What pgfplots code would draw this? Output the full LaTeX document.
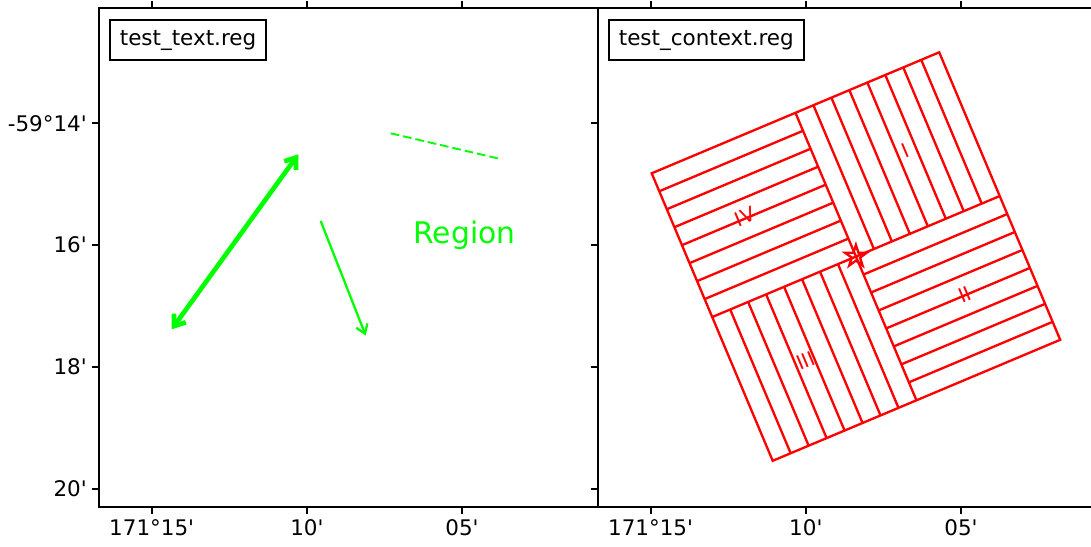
\documentclass[border=0pt]{standalone}
\usepackage{fontspec}
\newfontfamily\dejavu{DejaVu Sans}
\usepackage{pgfplots}
\pgfplotsset{compat=1.18}
\usetikzlibrary{arrows.meta}
\definecolor{lime}{RGB}{0,255,0}
\definecolor{rred}{RGB}{255,0,0}

\pgfdeclareplotmark{ostar}{%
  \pgfpathmoveto{\pgfpointpolar{90}{\pgfplotmarksize}}%
  \pgfpathlineto{\pgfpointpolar{126}{0.382\pgfplotmarksize}}%
  \pgfpathlineto{\pgfpointpolar{162}{\pgfplotmarksize}}%
  \pgfpathlineto{\pgfpointpolar{198}{0.382\pgfplotmarksize}}%
  \pgfpathlineto{\pgfpointpolar{234}{\pgfplotmarksize}}%
  \pgfpathlineto{\pgfpointpolar{270}{0.382\pgfplotmarksize}}%
  \pgfpathlineto{\pgfpointpolar{306}{\pgfplotmarksize}}%
  \pgfpathlineto{\pgfpointpolar{342}{0.382\pgfplotmarksize}}%
  \pgfpathlineto{\pgfpointpolar{18}{\pgfplotmarksize}}%
  \pgfpathlineto{\pgfpointpolar{54}{0.382\pgfplotmarksize}}%
  \pgfpathclose
  \pgfusepathqstroke
}

\pgfplotsset{
  panel/.style={
    scale only axis, width=374.25pt, height=374.25pt,
    anchor=center,
    ymin=8, ymax=507, y dir=reverse,
    axis line style={line width=1.5pt},
    tick align=outside,
    major tick length=5.25pt,
    major tick style={black, line width=1.4pt},
    xtick pos=both, ytick pos=left,
    tick label style={font=\dejavu\fontsize{16.1}{18}\selectfont},
    xticklabel style={yshift=-1pt},
    ytick={123.3,245,367,489},
    unbounded coords=jump,
  },
}
\tikzset{
  lbl/.style={draw=black, line width=1.3pt, anchor=north west, fill=white,
    font=\dejavu\fontsize{16.1}{18}\selectfont,
    text height=12pt, text depth=3.6pt, inner xsep=7.5pt, inner ysep=7.3pt},
  rnum/.style={rred, rotate=22.8, font=\dejavu\fontsize{15}{17}\selectfont, inner sep=0pt},
}

\begin{document}
\begin{tikzpicture}
\useasboundingbox (0,0) rectangle (818.25pt,409.5pt);

% ---------------- left panel: test_text.reg ----------------
\begin{axis}[panel, at={(261pt,216.375pt)},
  xmin=98.5, xmax=597.5,
  xtick={151.7,306.9,462}, xticklabels={171°15', 10', 05'},
  yticklabels={-59°14', 16', 18', 20'},
]
% thick double arrow
\addplot[lime, line width=3.5pt,
  arrows={Straight Barb[length=7.5pt,width=11pt]-Straight Barb[length=7.5pt,width=11pt]}]
  coordinates {(171.7,329.3) (298.3,154.3)};
% thin arrow
\addplot[lime, line width=1.7pt, arrows={-Straight Barb[length=6.5pt,width=9pt]}]
  coordinates {(320.7,221) (365.7,335.5)};
% dashed line
\addplot[lime, line width=1.4pt, dash pattern=on 6.5pt off 3pt]
  coordinates {(390.7,133.3) (500.5,159)};
\node[lime, anchor=base, font=\dejavu\fontsize{22.3}{26}\selectfont, inner sep=0pt]
  at (axis cs:464.5,243.3) {Region};
\node[lbl] at (axis cs:109,19) {test\_text.reg};
\end{axis}

% ---------------- right panel: test_context.reg ----------------
\begin{axis}[panel, at={(635.25pt,216.375pt)},
  xmin=597.5, xmax=1096.5,
  xtick={650.6,805.8,961}, xticklabels={171°15', 10', 05'},
  yticklabels={},
]
% outer square and the two middle lines
\addplot[rred, line width=1.75pt, line join=miter] coordinates {
  (651.7,173.3) (939.2,52.3) (1060.2,339.8) (772.7,460.8) (651.7,173.3) (939.2,52.3)
  (nan,nan) (795.45,112.8) (916.45,400.3)
  (nan,nan) (712.2,317.05) (999.7,196.05)
};
% region IV hatching
\addplot[rred, line width=1.75pt] coordinates {
  (659.26,191.27) (803.01,130.77) (nan,nan)
  (666.83,209.24) (810.58,148.74) (nan,nan)
  (674.39,227.21) (818.14,166.71) (nan,nan)
  (681.95,245.18) (825.70,184.68) (nan,nan)
  (689.51,263.14) (833.26,202.64) (nan,nan)
  (697.08,281.11) (840.83,220.61) (nan,nan)
  (704.64,299.08) (848.39,238.58)
};
% region I hatching
\addplot[rred, line width=1.75pt] coordinates {
  (813.42,105.24) (873.92,248.99) (nan,nan)
  (831.39,97.68) (891.89,241.43) (nan,nan)
  (849.36,90.11) (909.86,233.86) (nan,nan)
  (867.33,82.55) (927.83,226.30) (nan,nan)
  (885.30,74.99) (945.80,218.74) (nan,nan)
  (903.26,67.43) (963.76,211.18) (nan,nan)
  (921.23,59.86) (981.73,203.61)
};
% region II hatching
\addplot[rred, line width=1.75pt] coordinates {
  (863.51,274.52) (1007.26,214.02) (nan,nan)
  (871.08,292.49) (1014.83,231.99) (nan,nan)
  (878.64,310.46) (1022.39,249.96) (nan,nan)
  (886.20,328.43) (1029.95,267.93) (nan,nan)
  (893.76,346.39) (1037.51,285.89) (nan,nan)
  (901.33,364.36) (1045.08,303.86) (nan,nan)
  (908.89,382.33) (1052.64,321.83)
};
% region III hatching
\addplot[rred, line width=1.75pt] coordinates {
  (730.17,309.49) (790.67,453.24) (nan,nan)
  (748.14,301.93) (808.64,445.68) (nan,nan)
  (766.11,294.36) (826.61,438.11) (nan,nan)
  (784.08,286.80) (844.58,430.55) (nan,nan)
  (802.05,279.24) (862.55,422.99) (nan,nan)
  (820.01,271.68) (880.51,415.43) (nan,nan)
  (837.98,264.11) (898.48,407.86)
};
% centre star
\addplot[rred, only marks, mark=ostar, mark size=8.5pt,
  mark options={line width=1.75pt, solid, fill=none}] coordinates {(855.9,256.3)};
\node[rnum] at (axis cs:905,150.7) {I};
\node[rnum] at (axis cs:965,294.5) {II};
\node[rnum] at (axis cs:805.5,360.5) {III};
\node[rnum] at (axis cs:745,216.7) {IV};
\node[lbl] at (axis cs:608,19) {test\_context.reg};
\end{axis}
\end{tikzpicture}
\end{document}
